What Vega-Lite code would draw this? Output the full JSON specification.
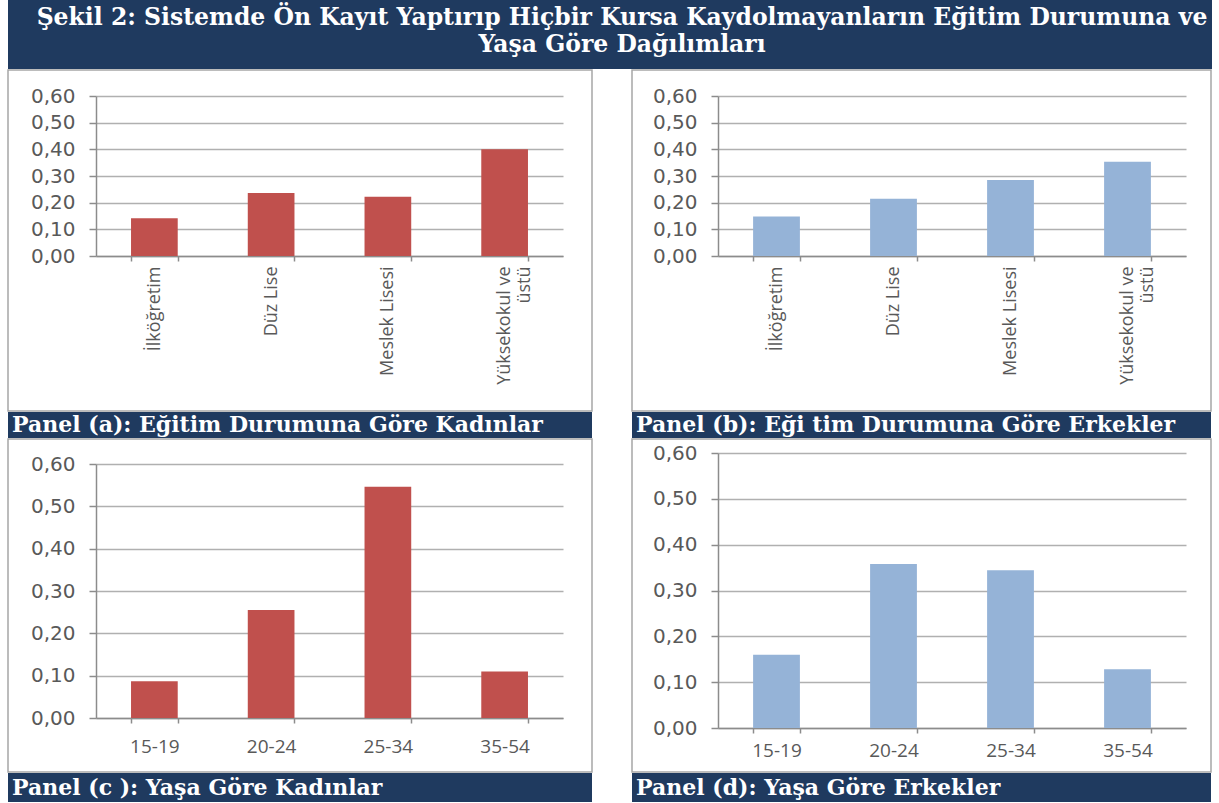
{
  "$schema": "https://vega.github.io/schema/vega-lite/v6.json",
  "background": "white",
  "padding": {"left": -2, "top": 0, "right": 7, "bottom": 5},
  "spacing": 0,
  "datasets": {
    "baslik": [{"metin": "Şekil 2: Sistemde Ön Kayıt Yaptırıp Hiçbir Kursa Kaydolmayanların Eğitim Durumuna ve\nYaşa Göre Dağılımları"}],
    "ek": [
      {"kategori": "İlköğretim", "deger": 0.142},
      {"kategori": "Düz Lise", "deger": 0.236},
      {"kategori": "Meslek Lisesi", "deger": 0.222},
      {"kategori": "Yüksekokul ve üstü", "deger": 0.40}
    ],
    "ee": [
      {"kategori": "İlköğretim", "deger": 0.148},
      {"kategori": "Düz Lise", "deger": 0.215},
      {"kategori": "Meslek Lisesi", "deger": 0.285},
      {"kategori": "Yüksekokul ve üstü", "deger": 0.353}
    ],
    "yk": [
      {"yas": "15-19", "deger": 0.087},
      {"yas": "20-24", "deger": 0.255},
      {"yas": "25-34", "deger": 0.546},
      {"yas": "35-54", "deger": 0.11}
    ],
    "ye": [
      {"yas": "15-19", "deger": 0.16},
      {"yas": "20-24", "deger": 0.358},
      {"yas": "25-34", "deger": 0.344},
      {"yas": "35-54", "deger": 0.128}
    ]
  },
  "config": {
    "font": "DejaVu Sans",
    "axis": {
      "labelColor": "#595959",
      "domainColor": "#8c8c8c",
      "tickColor": "#8c8c8c",
      "gridColor": "#b0b0b0",
      "gridWidth": 1.5,
      "domainWidth": 1.5,
      "tickWidth": 1.5
    }
  },
  "vconcat": [
    {
      "width": 1204,
      "height": 69,
      "view": {"fill": "#1F3A5F", "stroke": null},
      "data": {"name": "baslik"},
      "mark": {"type": "text", "lineBreak": "\n", "color": "white", "font": "DejaVu Serif", "fontWeight": "bold", "fontSize": 23.5, "lineHeight": 27, "dx": 12, "dy": -17, "baseline": "middle", "align": "center", "limit": 1200},
      "encoding": {"text": {"field": "metin"}}
    },
    {
      "hconcat": [
        {
          "vconcat": [
            {
              "width": 584,
              "height": 341,
              "view": {"fill": "white", "stroke": "#a6a6a6", "strokeWidth": 1.5},
              "data": {"name": "ek"},
              "mark": {"type": "bar", "color": "#C0504D"},
              "encoding": {
                "x": {"field": "kategori", "type": "nominal", "sort": null,
                  "scale": {"range": [88, 555], "paddingInner": 0.6, "paddingOuter": 0.3},
                  "axis": {"title": null, "orient": "bottom", "offset": -155, "labelAngle": -90, "tickBand": "extent", "tickSize": 5, "labelPadding": 5, "labelFont": "Open Sans", "labelFontSize": 18, "labelLineHeight": 20,
                    "labelExpr": "datum.label === 'Yüksekokul ve üstü' ? ['Yüksekokul ve', 'üstü'] : datum.label"}},
                "y": {"field": "deger", "type": "quantitative",
                  "scale": {"domain": [0, 0.6], "range": [186, 26], "nice": false},
                  "axis": {"title": null, "offset": -88, "values": [0, 0.1, 0.2, 0.3, 0.4, 0.5, 0.6], "labelExpr": "replace(format(datum.value, '.2f'), '.', ',')", "tickSize": 7, "labelPadding": 14, "labelFontSize": 20, "grid": true}}
              }
            },
            {
              "width": 584,
              "height": 26,
              "view": {"fill": "#1F3A5F", "stroke": null},
              "data": {"values": [{"panel": "a", "etiket": "Panel (a): Eğitim Durumuna Göre Kadınlar"}]},
              "mark": {"type": "text", "align": "left", "baseline": "middle", "dx": 4, "color": "white", "font": "DejaVu Serif", "fontWeight": "bold", "fontSize": 22},
              "encoding": {
                "x": {"field": "panel", "type": "nominal", "bandPosition": 0, "scale": {"type": "band", "paddingInner": 0, "paddingOuter": 0}, "axis": null},
                "text": {"field": "etiket"}
              }
            }
          ],
          "spacing": 0
        },
        {
          "vconcat": [
            {
              "width": 579,
              "height": 341,
              "view": {"fill": "white", "stroke": "#a6a6a6", "strokeWidth": 1.5},
              "data": {"name": "ee"},
              "mark": {"type": "bar", "color": "#95B3D7"},
              "encoding": {
                "x": {"field": "kategori", "type": "nominal", "sort": null,
                  "scale": {"range": [86, 554], "paddingInner": 0.6, "paddingOuter": 0.3},
                  "axis": {"title": null, "orient": "bottom", "offset": -155, "labelAngle": -90, "tickBand": "extent", "tickSize": 5, "labelPadding": 5, "labelFont": "Open Sans", "labelFontSize": 18, "labelLineHeight": 20,
                    "labelExpr": "datum.label === 'Yüksekokul ve üstü' ? ['Yüksekokul ve', 'üstü'] : datum.label"}},
                "y": {"field": "deger", "type": "quantitative",
                  "scale": {"domain": [0, 0.6], "range": [186, 26], "nice": false},
                  "axis": {"title": null, "offset": -86, "values": [0, 0.1, 0.2, 0.3, 0.4, 0.5, 0.6], "labelExpr": "replace(format(datum.value, '.2f'), '.', ',')", "tickSize": 7, "labelPadding": 14, "labelFontSize": 20, "grid": true}}
              }
            },
            {
              "width": 579,
              "height": 26,
              "view": {"fill": "#1F3A5F", "stroke": null},
              "data": {"values": [{"panel": "b", "etiket": "Panel (b): Eği tim Durumuna Göre Erkekler"}]},
              "mark": {"type": "text", "align": "left", "baseline": "middle", "dx": 4, "color": "white", "font": "DejaVu Serif", "fontWeight": "bold", "fontSize": 22},
              "encoding": {
                "x": {"field": "panel", "type": "nominal", "bandPosition": 0, "scale": {"type": "band", "paddingInner": 0, "paddingOuter": 0}, "axis": null},
                "text": {"field": "etiket"}
              }
            }
          ],
          "spacing": 0
        }
      ],
      "spacing": 29
    },
    {
      "hconcat": [
        {
          "vconcat": [
            {
              "width": 584,
              "height": 333,
              "view": {"fill": "white", "stroke": "#a6a6a6", "strokeWidth": 1.5},
              "data": {"name": "yk"},
              "mark": {"type": "bar", "color": "#C0504D"},
              "encoding": {
                "x": {"field": "yas", "type": "nominal", "sort": null,
                  "scale": {"range": [88, 555], "paddingInner": 0.6, "paddingOuter": 0.3},
                  "axis": {"title": null, "orient": "bottom", "offset": -54, "labelAngle": 0, "tickBand": "extent", "tickSize": 5, "labelPadding": 14, "labelFont": "Open Sans", "labelFontSize": 19}},
                "y": {"field": "deger", "type": "quantitative",
                  "scale": {"domain": [0, 0.6], "range": [279, 25], "nice": false},
                  "axis": {"title": null, "offset": -88, "values": [0, 0.1, 0.2, 0.3, 0.4, 0.5, 0.6], "labelExpr": "replace(format(datum.value, '.2f'), '.', ',')", "tickSize": 7, "labelPadding": 14, "labelFontSize": 20, "grid": true}}
              }
            },
            {
              "width": 584,
              "height": 29,
              "view": {"fill": "#1F3A5F", "stroke": null},
              "data": {"values": [{"panel": "c", "etiket": "Panel (c ): Yaşa Göre Kadınlar"}]},
              "mark": {"type": "text", "align": "left", "baseline": "middle", "dx": 4, "color": "white", "font": "DejaVu Serif", "fontWeight": "bold", "fontSize": 22},
              "encoding": {
                "x": {"field": "panel", "type": "nominal", "bandPosition": 0, "scale": {"type": "band", "paddingInner": 0, "paddingOuter": 0}, "axis": null},
                "text": {"field": "etiket"}
              }
            }
          ],
          "spacing": 0
        },
        {
          "vconcat": [
            {
              "width": 579,
              "height": 333,
              "view": {"fill": "white", "stroke": "#a6a6a6", "strokeWidth": 1.5},
              "data": {"name": "ye"},
              "mark": {"type": "bar", "color": "#95B3D7"},
              "encoding": {
                "x": {"field": "yas", "type": "nominal", "sort": null,
                  "scale": {"range": [86, 554], "paddingInner": 0.6, "paddingOuter": 0.3},
                  "axis": {"title": null, "orient": "bottom", "offset": -44, "labelAngle": 0, "tickBand": "extent", "tickSize": 5, "labelPadding": 8, "labelFont": "Open Sans", "labelFontSize": 19}},
                "y": {"field": "deger", "type": "quantitative",
                  "scale": {"domain": [0, 0.6], "range": [289, 14], "nice": false},
                  "axis": {"title": null, "offset": -86, "values": [0, 0.1, 0.2, 0.3, 0.4, 0.5, 0.6], "labelExpr": "replace(format(datum.value, '.2f'), '.', ',')", "tickSize": 7, "labelPadding": 14, "labelFontSize": 20, "grid": true}}
              }
            },
            {
              "width": 579,
              "height": 29,
              "view": {"fill": "#1F3A5F", "stroke": null},
              "data": {"values": [{"panel": "d", "etiket": "Panel (d): Yaşa Göre Erkekler"}]},
              "mark": {"type": "text", "align": "left", "baseline": "middle", "dx": 4, "color": "white", "font": "DejaVu Serif", "fontWeight": "bold", "fontSize": 22},
              "encoding": {
                "x": {"field": "panel", "type": "nominal", "bandPosition": 0, "scale": {"type": "band", "paddingInner": 0, "paddingOuter": 0}, "axis": null},
                "text": {"field": "etiket"}
              }
            }
          ],
          "spacing": 0
        }
      ],
      "spacing": 38
    }
  ]
}
